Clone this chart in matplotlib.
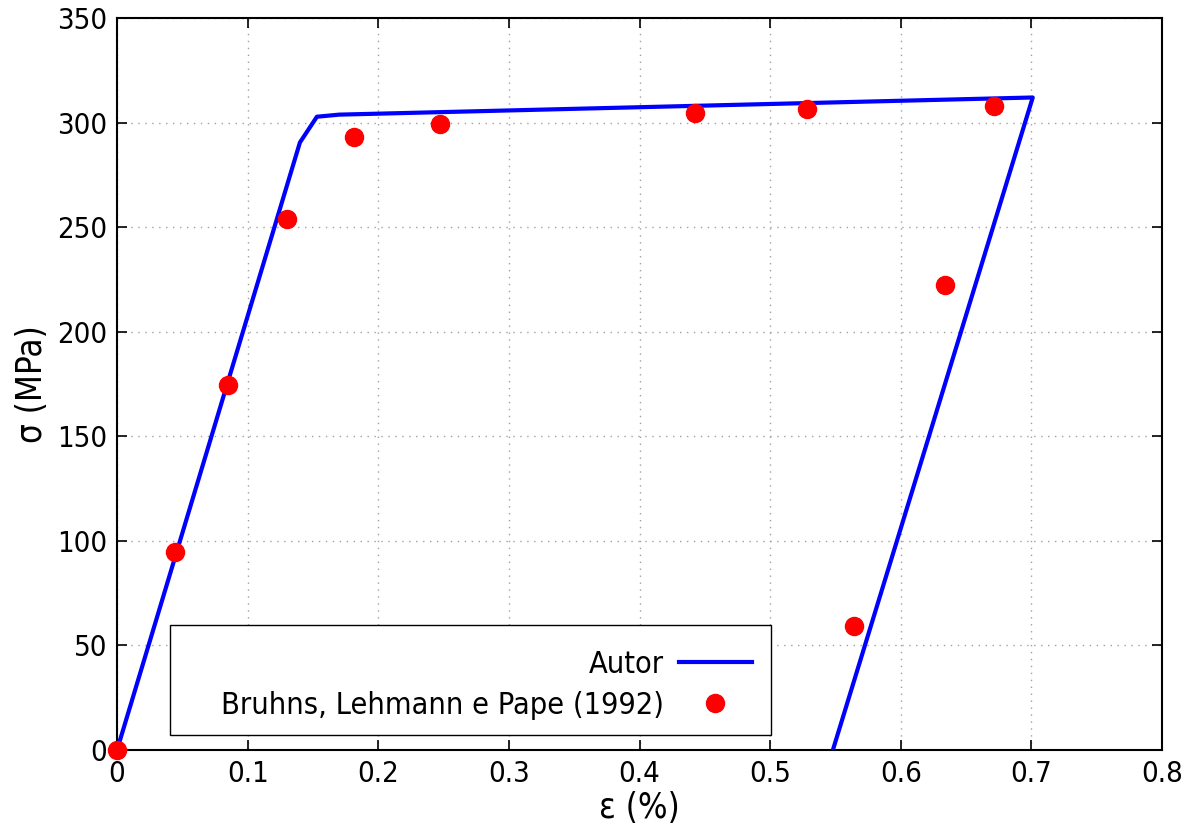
import matplotlib
matplotlib.use('Agg')
import matplotlib.pyplot as plt
from matplotlib.patches import Rectangle

# modelo (Autor)
eps_autor = [0.0, 0.140, 0.153, 0.170, 0.701, 0.548]
sig_autor = [0.0, 290.5, 302.8, 303.8, 312.0, 0.0]

# experimental - Bruhns, Lehmann e Pape (1992)
eps_exp = [0.0, 0.0444, 0.085, 0.130, 0.1815, 0.2474, 0.4427, 0.528, 0.671, 0.634, 0.5645]
sig_exp = [0.0, 94.7, 174.5, 254.0, 293.0, 299.3, 304.6, 306.5, 308.0, 222.3, 59.3]

xticks = [0, 0.1, 0.2, 0.3, 0.4, 0.5, 0.6, 0.7, 0.8]
xticklabels = ['0', '0.1', '0.2', '0.3', '0.4', '0.5', '0.6', '0.7', '0.8']
yticks = [0, 50, 100, 150, 200, 250, 300, 350]

plt.rcParams['font.family'] = ['DejaVu Sans']
plt.rcParams['font.stretch'] = 'condensed'

fig = plt.figure(figsize=(11.98, 8.34), dpi=100)
ax = fig.add_axes([0.0977, 0.1007, 0.8723, 0.8777])

ax.plot(eps_autor, sig_autor, color='#0000ff', lw=3.0, label='Autor', zorder=3)
ax.plot(eps_exp, sig_exp, 'o', color='#ff0000', ms=13, label='Bruhns, Lehmann e Pape (1992)',
        clip_on=False, zorder=4)

ax.set_xlim(0, 0.8)
ax.set_ylim(0, 350)
ax.set_xticks(xticks)
ax.set_xticklabels(xticklabels)
ax.set_yticks(yticks)
ax.tick_params(direction='in', length=7, width=1.2, top=True, right=True,
               labelsize=21, pad=7)
ax.grid(True, linestyle=(0, (1, 4)), color='#a0a0a0', lw=1.0)
for s in ax.spines.values():
    s.set_linewidth(1.5)

ax.set_xlabel('ε (%)', fontsize=25, labelpad=2)
ax.set_ylabel('σ (MPa)', fontsize=25, labelpad=6)

# caixa da legenda
box = Rectangle((0.0508, 0.0205), 0.575, 0.150, transform=ax.transAxes,
                facecolor='white', edgecolor='black', lw=1.0, zorder=5)
ax.add_patch(box)
leg = ax.legend(loc='lower right', bbox_to_anchor=(0.637, -0.001), frameon=False,
                markerfirst=False, fontsize=22, handlelength=2.4, labelspacing=0.4,
                borderpad=0.5, handletextpad=0.5)
leg.set_zorder(6)

fig.savefig('out.png', dpi=100)
